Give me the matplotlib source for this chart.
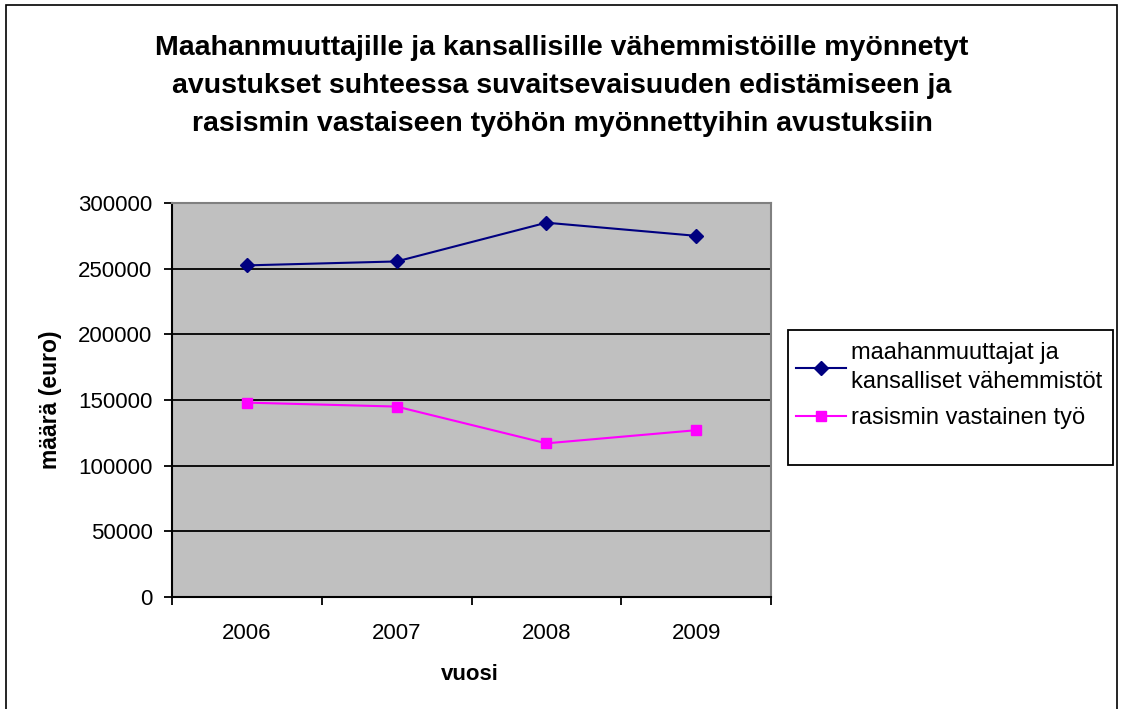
import matplotlib.pyplot as plt
from matplotlib.patches import Rectangle

# data
years = ['2006', '2007', '2008', '2009']
maahanmuuttajat = [252500, 255500, 285000, 275000]
rasismi = [148000, 145000, 117000, 127000]

plt.rcParams['font.family'] = ['Liberation Sans', 'DejaVu Sans']

fig = plt.figure(figsize=(11.21, 7.09), dpi=100)
W, H = 1121, 709

# outer chart border
fig.patches.append(Rectangle((6 / W, -0.05), 1111 / W, 1 - 5 / H + 0.05,
                             transform=fig.transFigure, fill=False,
                             edgecolor='black', linewidth=1.2))

ax = fig.add_axes([172 / W, 1 - 597 / H, 599 / W, 394 / H])
ax.set_facecolor('#C0C0C0')

x = list(range(len(years)))
l1, = ax.plot(x, maahanmuuttajat, color='#000080', marker='D', markersize=7.5,
              linewidth=1.5, label='maahanmuuttajat ja\nkansalliset vähemmistöt', zorder=3)
l2, = ax.plot(x, rasismi, color='#FF00FF', marker='s', markersize=7.5,
              linewidth=1.5, label='rasismin vastainen työ', zorder=3)

ax.set_xlim(-0.5, 3.5)
ax.set_ylim(0, 300000)
ax.set_yticks(range(0, 300001, 50000))
ax.yaxis.grid(True, color='black', linewidth=1.3)
ax.set_axisbelow(True)

# category labels between boundary ticks
ax.set_xticks([-0.5, 0.5, 1.5, 2.5, 3.5])
ax.set_xticklabels([])
ax.set_xticks(x, minor=True)
ax.set_xticklabels(years, minor=True)
ax.tick_params(axis='x', which='major', length=6, width=1.3, direction='out')
ax.tick_params(axis='x', which='minor', length=0, pad=19, labelsize=16)
ax.tick_params(axis='y', length=5.5, width=1.3, labelsize=16, pad=8.5)

for s in ['top', 'right']:
    ax.spines[s].set_color('#808080')
    ax.spines[s].set_linewidth(1.5)
for s in ['left', 'bottom']:
    ax.spines[s].set_color('black')
    ax.spines[s].set_linewidth(1.5)

ax.set_xlabel('vuosi', fontsize=16, fontweight='bold', va='center')
ax.xaxis.set_label_coords((470 - 172) / 599, -(675 - 597) / 394)
ax.set_ylabel('määrä (euro)', fontsize=16.5, fontweight='bold', va='center')
ax.yaxis.set_label_coords((50 - 172) / 599, 0.5)

fig.text(562 / W, 1 - 86 / H,
         'Maahanmuuttajille ja kansallisille vähemmistöille myönnetyt\n'
         'avustukset suhteessa suvaitsevaisuuden edistämiseen ja\n'
         'rasismin vastaiseen työhön myönnettyihin avustuksiin',
         ha='center', va='center', fontsize=20.5, fontweight='bold',
         linespacing=1.62)

# legend box drawn separately, Excel style with empty space below
fig.patches.append(Rectangle((788 / W, 1 - 465 / H), 325 / W, 135 / H,
                             transform=fig.transFigure, fill=False,
                             edgecolor='black', linewidth=1.3))
leg = ax.legend(handles=[l1, l2], loc='upper left',
                bbox_to_anchor=(796 / W, 1 - 342 / H), bbox_transform=fig.transFigure,
                fontsize=17, frameon=False, borderpad=0, handlelength=2.1,
                labelspacing=0.6, handletextpad=0.25, borderaxespad=0)
for t in leg.get_texts():
    t.set_linespacing(1.4)

fig.savefig('out.png', dpi=100)
